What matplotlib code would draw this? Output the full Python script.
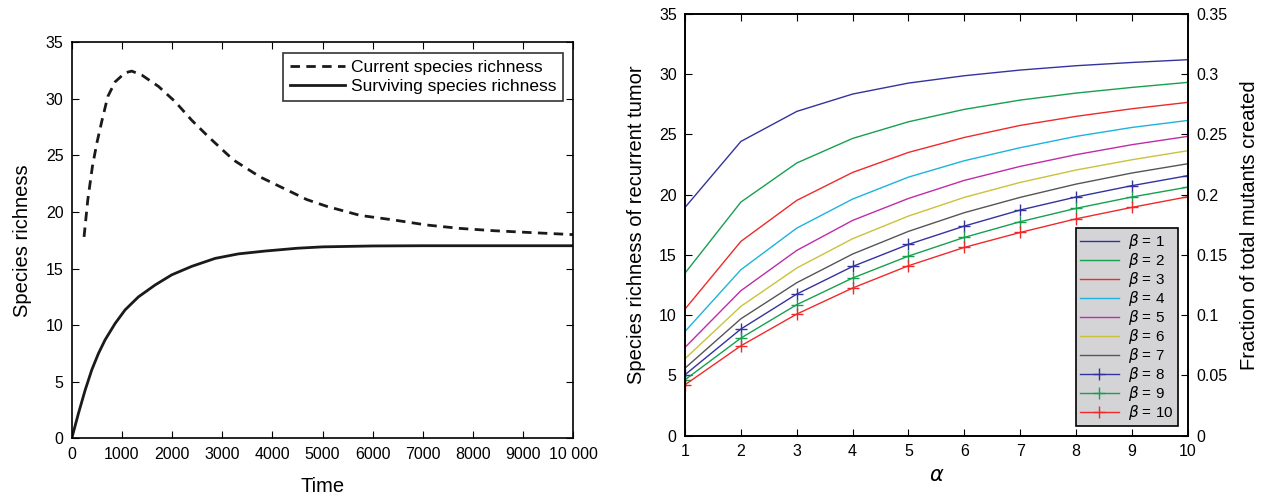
import matplotlib
matplotlib.use("Agg")
import matplotlib.pyplot as plt
import numpy as np

plt.rcParams["font.family"] = ["Liberation Sans", "DejaVu Sans"]
plt.rcParams["mathtext.fontset"] = "dejavusans"

# left panel: richness over time
t_current = [245, 319, 411, 498, 598, 718, 864, 1063, 1196, 1396, 1728, 2061, 2393,
             2724, 3222, 3754, 4685, 5084, 5748, 6412, 7077, 7741, 8405, 9071, 10000]
current = [17.8, 21.05, 24.0, 26.05, 28.0, 30.2, 31.5, 32.3, 32.45, 32.1, 31.1, 29.75,
           28.1, 26.65, 24.6, 23.1, 21.1, 20.5, 19.7, 19.3, 18.85, 18.55, 18.35, 18.2, 18.0]

t_surv = [0, 133, 266, 399, 532, 664, 864, 1063, 1329, 1661, 1994, 2393, 2857,
          3322, 3854, 4500, 5000, 6000, 7000, 8000, 9000, 10000]
surviving = [0, 2.2, 4.25, 6.05, 7.5, 8.7, 10.15, 11.35, 12.5, 13.55, 14.45, 15.2, 15.9,
             16.3, 16.55, 16.8, 16.92, 17.0, 17.02, 17.02, 17.02, 17.02]

# right panel: richness vs alpha for beta = 1..10
alpha = [1, 2, 3, 4, 5, 6, 7, 8, 9, 10]
betas = [1, 2, 3, 4, 5, 6, 7, 8, 9, 10]
richness = [
    [18.94, 24.41, 26.9, 28.34, 29.25, 29.86, 30.33, 30.69, 30.96, 31.19],
    [13.49, 19.38, 22.62, 24.66, 26.04, 27.07, 27.84, 28.42, 28.89, 29.31],
    [10.51, 16.12, 19.52, 21.84, 23.5, 24.74, 25.74, 26.49, 27.12, 27.65],
    [8.65, 13.77, 17.22, 19.63, 21.45, 22.81, 23.89, 24.83, 25.57, 26.15],
    [7.33, 12.03, 15.37, 17.86, 19.68, 21.18, 22.34, 23.31, 24.14, 24.83],
    [6.39, 10.73, 13.91, 16.34, 18.22, 19.77, 21.01, 22.04, 22.89, 23.64],
    [5.61, 9.7, 12.69, 15.07, 16.95, 18.5, 19.77, 20.87, 21.79, 22.56],
    [5.06, 8.85, 11.75, 14.04, 15.87, 17.39, 18.72, 19.8, 20.74, 21.57],
    [4.64, 8.1, 10.87, 13.08, 14.9, 16.45, 17.75, 18.86, 19.8, 20.62],
    [4.23, 7.46, 10.09, 12.25, 14.1, 15.62, 16.86, 17.99, 18.94, 19.82],
]
colors = ["#33339e", "#16a050", "#ee2a2a", "#1cb4dc", "#c02ca8",
          "#cac23a", "#555555", "#33339e", "#16a050", "#ee2a2a"]

fig = plt.figure(figsize=(12.7, 4.97), dpi=100)

# ---- left panel
ax1 = fig.add_axes([0.0565, 0.118, 0.395, 0.797])
ax1.plot(t_current, current, color="#1a1a1a", lw=2.0, dashes=(3.4, 2.3),
         label="Current species richness")
ax1.plot(t_surv, surviving, color="#1a1a1a", lw=2.0,
         label="Surviving species richness")
ax1.set_xlim(0, 10000)
ax1.set_ylim(0, 35)
ax1.set_xticks(np.arange(0, 10001, 1000))
ax1.set_xticklabels([str(v) for v in range(0, 10000, 1000)] + ["10 000"])
ax1.set_yticks(np.arange(0, 36, 5))
ax1.tick_params(direction="in", top=True, right=True, labelsize=11.5, length=5, pad=6)
ax1.set_xlabel("Time", fontsize=14.5, labelpad=11)
ax1.set_ylabel("Species richness", fontsize=14.5, labelpad=10)
leg1 = ax1.legend(loc="upper right", fontsize=12.5, frameon=True, fancybox=False,
                  edgecolor="black", handlelength=3.2, borderpad=0.4,
                  labelspacing=0.22, handletextpad=0.3, borderaxespad=0.6)
leg1.get_frame().set_linewidth(1.2)

# ---- right panel
ax2 = fig.add_axes([0.5394, 0.1233, 0.3958, 0.849])
for b, vals, c in zip(betas, richness, colors):
    if b >= 8:
        ax2.plot(alpha, vals, color=c, lw=1.0, marker="+", ms=8, mew=1.0,
                 label=r"$\beta$ = %d" % b)
    else:
        ax2.plot(alpha, vals, color=c, lw=1.0, label=r"$\beta$ = %d" % b)
ax2.set_xlim(1, 10)
ax2.set_ylim(0, 35)
ax2.set_xticks(alpha)
ax2.set_yticks(np.arange(0, 36, 5))
ax2.tick_params(direction="in", top=True, labelsize=11.5, length=5, pad=6)
ax2.set_xlabel(r"$\alpha$", fontsize=15, labelpad=5)
ax2.set_ylabel("Species richness of recurrent tumor", fontsize=14.5, labelpad=9)

ax3 = ax2.twinx()
ax3.set_ylim(0, 0.35)
ax3.set_yticks([0, 0.05, 0.1, 0.15, 0.2, 0.25, 0.3, 0.35])
ax3.set_yticklabels(["0", "0.05", "0.1", "0.15", "0.2", "0.25", "0.3", "0.35"])
ax3.tick_params(direction="in", labelsize=11.5, length=5, pad=6)
ax3.set_ylabel("Fraction of total mutants created", fontsize=14.5, labelpad=9)

leg2 = ax2.legend(loc="lower right", fontsize=11, frameon=True, fancybox=False,
                  edgecolor="black", facecolor="#d4d4d6", framealpha=1,
                  handlelength=2.6, borderpad=0.25, labelspacing=0.0,
                  handletextpad=0.6, borderaxespad=0.65)
leg2.get_frame().set_linewidth(1.2)

for ax in (ax1, ax2, ax3):
    for s in ax.spines.values():
        s.set_linewidth(1.2)

fig.savefig("out.png", dpi=100)
